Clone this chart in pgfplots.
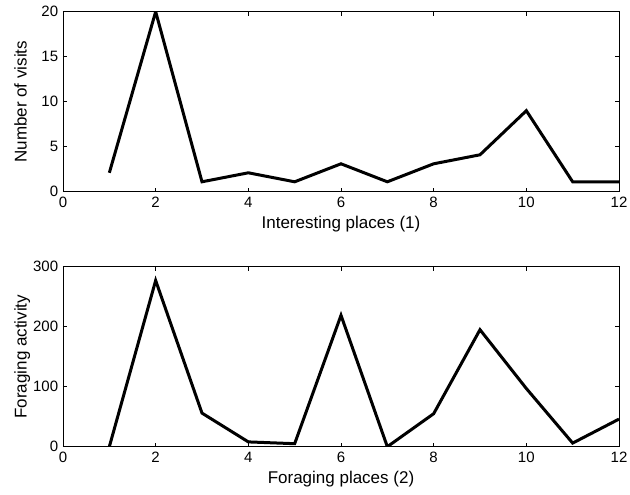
\documentclass[border=0pt]{standalone}
\usepackage{fontspec}
\setmainfont{Liberation Sans}
\usepackage{pgfplots}
\pgfplotsset{compat=1.18}

\pgfplotsset{
  matlab/.style={
    scale only axis,
    width=556bp, height=180bp,
    xmin=0, xmax=12,
    xtick={0,2,...,12},
    axis line style={line width=0.8bp},
    tick style={line width=0.8bp, black},
    major tick length=4bp,
    tick align=inside,
    /pgf/number format/assume math mode=true,
    tick label style={font=\fontsize{15bp}{17bp}\selectfont},
    xticklabel style={inner sep=0pt, yshift=-5bp},
    yticklabel style={inner sep=0pt, xshift=-4.7bp},
    label style={font=\fontsize{17bp}{19bp}\selectfont},
    xlabel style={at={(axis description cs:0.5,-0.2017)}, anchor=base, inner sep=0pt},
    ylabel style={at={(axis description cs:-0.0653,0.5)}, anchor=base, rotate=0, inner sep=0pt},
  },
  curve/.style={black, line width=3bp, mark=none, line join=miter},
}

\begin{document}
\begin{tikzpicture}
\path[use as bounding box] (-63bp,-48.3bp) rectangle (567bp,446.7bp);

\begin{axis}[matlab, at={(0,255bp)},
  ymin=0, ymax=20, ytick={0,5,...,20},
  xlabel={Interesting places (1)},
  ylabel={Number of visits}]
\addplot[curve] coordinates {(1,2.1) (2,20) (3,1.1) (4,2.1) (5,1.1) (6,3.1) (7,1.1) (8,3.1) (9,4.1) (10,9) (11,1.1) (12,1.1)};
\end{axis}

\begin{axis}[matlab, at={(0,0)},
  ymin=0, ymax=300, ytick={0,100,200,300},
  xlabel={Foraging places (2)},
  ylabel={Foraging activity}]
\addplot[curve] coordinates {(1,0) (2,277) (3,56) (4,8) (5,5) (6,219) (7,0) (8,55) (9,195) (10,97) (11,6) (12,46)};
\end{axis}
\end{tikzpicture}
\end{document}
